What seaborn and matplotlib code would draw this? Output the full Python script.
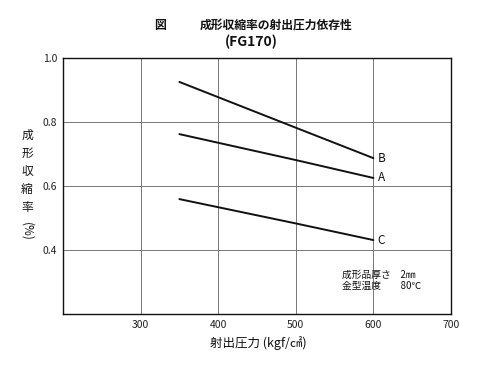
import matplotlib
matplotlib.use("Agg")
import matplotlib.pyplot as plt
import seaborn as sns
import pandas as pd

sns.set_theme(style="white")
plt.rcParams['font.family'] = ['Noto Sans CJK JP', 'DejaVu Sans']

pressure = [350, 500, 600]
series_names = ["B", "A", "C"]
shrink_B = [0.925, 0.782, 0.687]
shrink_A = [0.762, 0.681, 0.625]
shrink_C = [0.559, 0.483, 0.431]
x_ticks = [300, 400, 500, 600, 700]
y_ticks = [0.4, 0.6, 0.8, 1.0]

rows = []
for name, vals in zip(series_names, [shrink_B, shrink_A, shrink_C]):
    for p, v in zip(pressure, vals):
        rows.append({"pressure": p, "shrink": v, "series": name})
df = pd.DataFrame(rows)

fig = plt.figure(figsize=(5.0, 3.69), dpi=100)
ax = fig.add_axes([0.126, 0.149, 0.776, 0.694])
sns.lineplot(data=df, x="pressure", y="shrink", hue="series",
             palette={"A": "#111111", "B": "#111111", "C": "#111111"},
             linewidth=1.4, legend=False, ax=ax)

ax.set_xlim(200, 700)
ax.set_ylim(0.2, 1.0)
ax.set_xticks(x_ticks)
ax.set_yticks(y_ticks)
ax.set_xticklabels([str(t) for t in x_ticks], fontsize=7.5, color="#222222")
ax.set_yticklabels(["%.1f" % t for t in y_ticks], fontsize=7.5, color="#222222")
ax.tick_params(axis="both", length=0, pad=4)
ax.grid(True, color="#777777", linewidth=0.7)
for s in ax.spines.values():
    s.set_color("#111111")
    s.set_linewidth(1.0)
ax.set_xlabel("")
ax.set_ylabel("")

# end labels
for name, vals in zip(series_names, [shrink_B, shrink_A, shrink_C]):
    ax.annotate(name, xy=(pressure[-1], vals[-1]), xytext=(3, 0),
                textcoords="offset points", va="center", ha="left",
                fontsize=8.5, color="#111111")

# titles
fig.text(160 / 500, 1 - 25 / 369, "図", ha="center", va="center", fontsize=8.5,
         fontweight="bold", color="#111111")
fig.text(276 / 500, 1 - 25 / 369, "成形収縮率の射出圧力依存性", ha="center", va="center",
         fontsize=8.5, fontweight="bold", color="#111111")
fig.text(251 / 500, 1 - 42 / 369, "(FG170)", ha="center", va="center", fontsize=10,
         fontweight="bold", color="#111111")

# x label
fig.text(258 / 500, 1 - 343 / 369, "射出圧力 (kgf/㎠)", ha="center", va="center",
         fontsize=9, color="#111111")

# y label stacked
for i, ch in enumerate("成形収縮率"):
    fig.text(27 / 500, 1 - (135 + i * 18.2) / 369, ch, ha="center", va="center",
             fontsize=8.5, color="#111111")
fig.text(27 / 500, 1 - 231 / 369, "(%)", ha="center", va="center", rotation=270,
         fontsize=8.5, color="#111111")

# conditions note
fig.text(342 / 500, 1 - 275 / 369, "成形品厚さ　2㎜", ha="left", va="center",
         fontsize=7, color="#111111")
fig.text(342 / 500, 1 - 286 / 369, "金型温度　　80℃", ha="left", va="center",
         fontsize=7, color="#111111")

fig.savefig("out.png", dpi=100, facecolor="white")
